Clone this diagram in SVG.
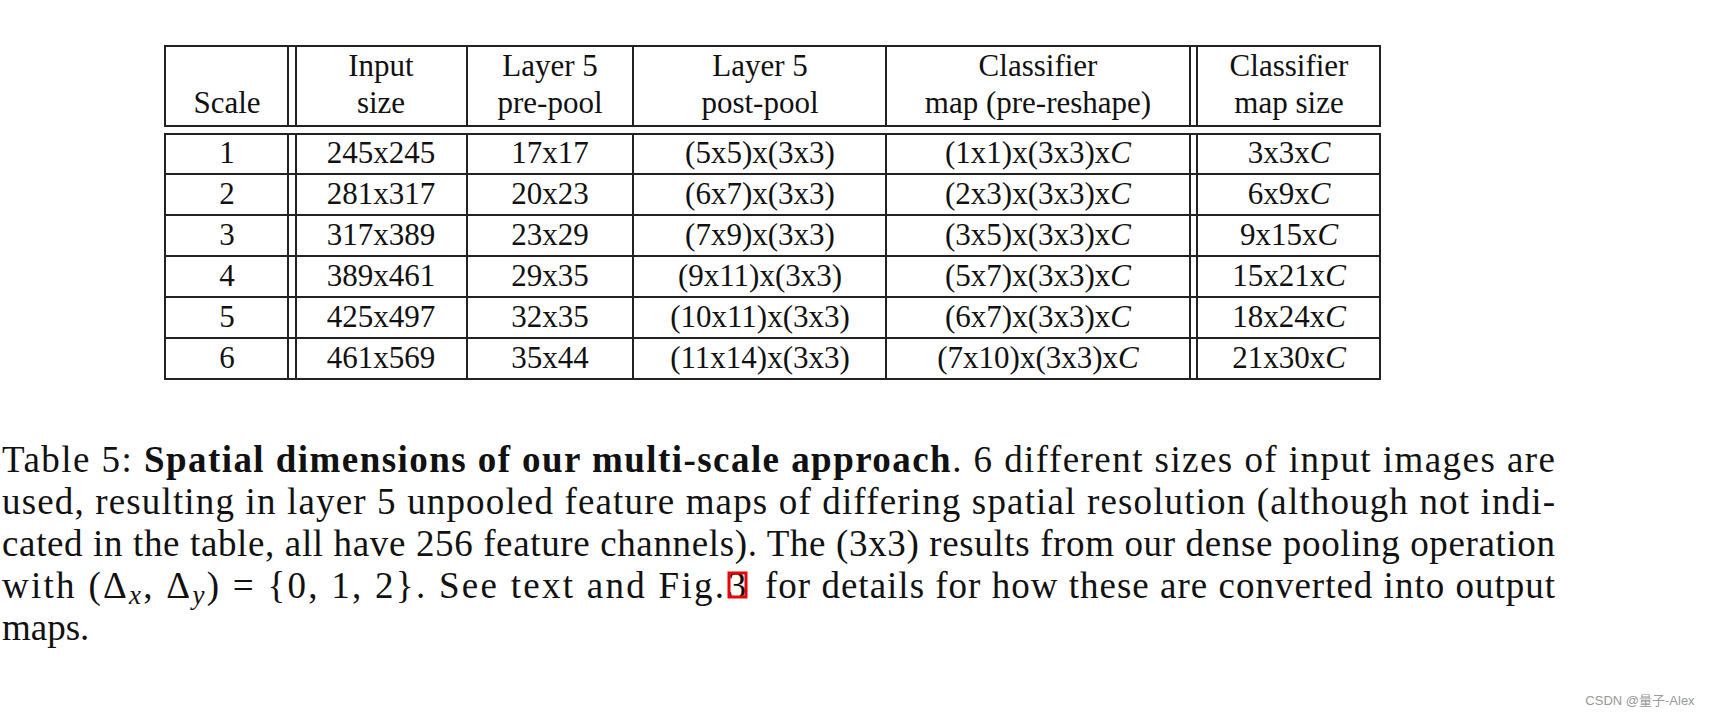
<svg xmlns="http://www.w3.org/2000/svg" width="1714" height="721" viewBox="0 0 1714 721">
<style>
.t{font-family:"Liberation Serif","Times New Roman",serif;font-size:31px;fill:#111;text-anchor:middle}
.l{stroke:#222;stroke-width:2;fill:none}
</style>
<rect width="1714" height="721" fill="#fff"/>
<g id="table">
<rect class="l" x="165" y="46" width="1215" height="80"/>
<rect class="l" x="165" y="134" width="1215" height="245"/>
<path class="l" d="M288 46V126M296 46V126M467 46V126M633 46V126M886 46V126M1190 46V126M1197 46V126M288 134V379M296 134V379M467 134V379M633 134V379M886 134V379M1190 134V379M1197 134V379M165 174H1380M165 215H1380M165 256H1380M165 297H1380M165 338H1380"/>
<g class="t">
<text x="227" y="113">Scale</text>
<text x="381" y="76">Input</text><text x="381" y="113">size</text>
<text x="550" y="76">Layer 5</text><text x="550" y="113">pre-pool</text>
<text x="760" y="76">Layer 5</text><text x="760" y="113">post-pool</text>
<text x="1038" y="76">Classifier</text><text x="1038" y="113">map (pre-reshape)</text>
<text x="1289" y="76">Classifier</text><text x="1289" y="113">map size</text>
<text x="227" y="163">1</text><text x="381" y="163">245x245</text><text x="550" y="163">17x17</text><text x="760" y="163">(5x5)x(3x3)</text><text x="1038" y="163">(1x1)x(3x3)x<tspan font-style="italic">C</tspan></text><text x="1289" y="163">3x3x<tspan font-style="italic">C</tspan></text>
<text x="227" y="204">2</text><text x="381" y="204">281x317</text><text x="550" y="204">20x23</text><text x="760" y="204">(6x7)x(3x3)</text><text x="1038" y="204">(2x3)x(3x3)x<tspan font-style="italic">C</tspan></text><text x="1289" y="204">6x9x<tspan font-style="italic">C</tspan></text>
<text x="227" y="245">3</text><text x="381" y="245">317x389</text><text x="550" y="245">23x29</text><text x="760" y="245">(7x9)x(3x3)</text><text x="1038" y="245">(3x5)x(3x3)x<tspan font-style="italic">C</tspan></text><text x="1289" y="245">9x15x<tspan font-style="italic">C</tspan></text>
<text x="227" y="286">4</text><text x="381" y="286">389x461</text><text x="550" y="286">29x35</text><text x="760" y="286">(9x11)x(3x3)</text><text x="1038" y="286">(5x7)x(3x3)x<tspan font-style="italic">C</tspan></text><text x="1289" y="286">15x21x<tspan font-style="italic">C</tspan></text>
<text x="227" y="327">5</text><text x="381" y="327">425x497</text><text x="550" y="327">32x35</text><text x="760" y="327">(10x11)x(3x3)</text><text x="1038" y="327">(6x7)x(3x3)x<tspan font-style="italic">C</tspan></text><text x="1289" y="327">18x24x<tspan font-style="italic">C</tspan></text>
<text x="227" y="368">6</text><text x="381" y="368">461x569</text><text x="550" y="368">35x44</text><text x="760" y="368">(11x14)x(3x3)</text><text x="1038" y="368">(7x10)x(3x3)x<tspan font-style="italic">C</tspan></text><text x="1289" y="368">21x30x<tspan font-style="italic">C</tspan></text>
</g>
</g>
<g id="caption" font-family="Liberation Serif, Times New Roman, serif" font-size="37" fill="#111">
<text x="2" y="472" textLength="1553" lengthAdjust="spacing">Table 5: <tspan font-weight="bold">Spatial dimensions of our multi-scale approach</tspan>.  6 different sizes of input images are</text>
<text x="2" y="514" textLength="1553" lengthAdjust="spacing">used, resulting in layer 5 unpooled feature maps of differing spatial resolution (although not indi-</text>
<text x="2" y="556" textLength="1553" lengthAdjust="spacing">cated in the table, all have 256 feature channels). The (3x3) results from our dense pooling operation</text>
<text x="2" y="598" textLength="722" lengthAdjust="spacing">with (Δ<tspan font-style="italic" font-size="27" dy="6">x</tspan><tspan dy="-6">, Δ</tspan><tspan font-style="italic" font-size="27" dy="6">y</tspan><tspan dy="-6">) = {0, 1, 2}.  See text and Fig.</tspan></text>
<text x="737" y="598" text-anchor="middle">3</text>
<text x="765" y="598" textLength="790" lengthAdjust="spacing">for details for how these are converted into output</text>
<text x="2" y="640">maps.</text>
</g>
<rect x="729" y="573" width="17" height="24" fill="none" stroke="#e00" stroke-width="3"/>
<text x="1640" y="705" font-family="Liberation Sans, Noto Sans CJK SC, sans-serif" font-size="13" fill="#999" text-anchor="middle">CSDN @量子-Alex</text>
</svg>
